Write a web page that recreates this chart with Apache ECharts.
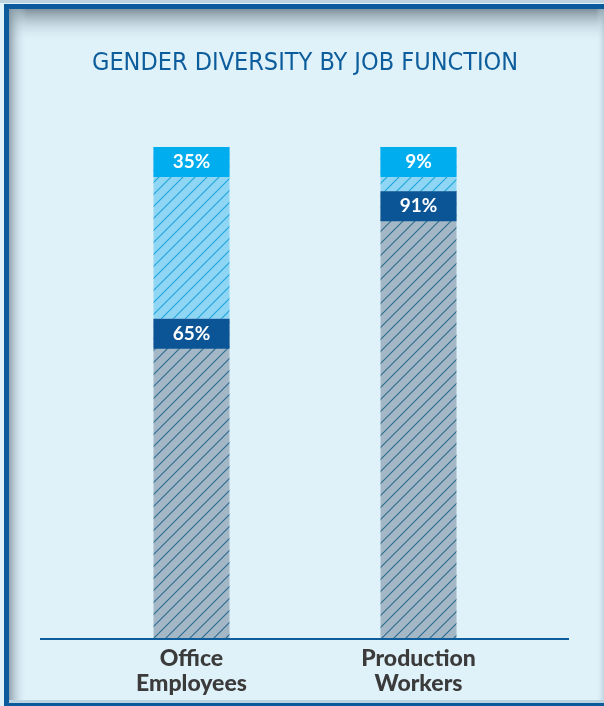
<!DOCTYPE html>
<html>
<head>
<meta charset="utf-8">
<script src="https://cdn.jsdelivr.net/npm/echarts@6/dist/echarts.min.js"></script>
<style>
  html, body { margin: 0; padding: 0; background: #dff2fa; }
  #chart { width: 604px; height: 706px; }
</style>
</head>
<body>
<div id="chart"></div>
<script>
// Job functions and the gender split of each, in percent
const categories = ['Office\nEmployees', 'Production\nWorkers'];
const menShare = [65, 91];
const womenShare = [35, 9];
const titleText = 'GENDER DIVERSITY BY JOB FUNCTION';

// Diagonal hatch tile used as a repeating bar fill
function hatch(bg, line, size) {
  const c = document.createElement('canvas');
  c.width = size; c.height = size;
  const ctx = c.getContext('2d');
  ctx.fillStyle = bg;
  ctx.fillRect(0, 0, size, size);
  ctx.strokeStyle = line;
  ctx.lineWidth = 1.1;
  ctx.beginPath();
  ctx.moveTo(-1, size + 1); ctx.lineTo(size + 1, -1);
  ctx.moveTo(-2, 2); ctx.lineTo(2, -2);
  ctx.moveTo(size - 2, size + 2); ctx.lineTo(size + 2, size - 2);
  ctx.stroke();
  return { image: c, repeat: 'repeat' };
}

const chart = echarts.init(document.getElementById('chart'), null, { renderer: 'canvas' });

function bandLabel(bg) {
  return {
    show: true,
    position: 'insideTop',
    distance: 0,
    formatter: '{c}%',
    backgroundColor: bg,
    width: 76,
    height: 30,
    lineHeight: 30,
    align: 'center',
    color: '#ffffff',
    fontFamily: 'Lato, "DejaVu Sans", sans-serif',
    fontWeight: 'bold',
    fontSize: 19
  };
}

chart.setOption({
  backgroundColor: '#dff2fa',
  animation: false,
  grid: { left: 78, right: 72, top: 147, bottom: 68 },
  xAxis: {
    type: 'category',
    data: categories,
    axisLine: { show: false },
    axisTick: { show: false },
    axisLabel: {
      margin: 8,
      color: '#3b3b3b',
      fontFamily: 'Lato, "DejaVu Sans", sans-serif',
      fontWeight: 900,
      fontSize: 23,
      lineHeight: 25
    }
  },
  yAxis: {
    type: 'value',
    min: 0,
    max: 100,
    show: false,
    splitLine: { show: false }
  },
  series: [
    {
      name: 'Men',
      type: 'bar',
      stack: 'share',
      barWidth: 76,
      data: menShare,
      itemStyle: { color: hatch('#a4b7c7', '#296c8c', 12) },
      label: bandLabel('#0b5596')
    },
    {
      name: 'Women',
      type: 'bar',
      stack: 'share',
      barWidth: 76,
      data: womenShare,
      itemStyle: { color: hatch('#8fd5f4', '#1fa5dc', 12) },
      label: bandLabel('#00aeef')
    }
  ],
  graphic: [
    // frame: dark edges with soft inner shadow
    { type: 'rect', z: 1, silent: true, shape: { x: 0, y: 0, width: 604, height: 3 }, style: { fill: '#bcd3df' } },
    {
      type: 'rect', z: 1, silent: true,
      shape: { x: 9, y: 9, width: 595, height: 34 },
      style: { fill: new echarts.graphic.LinearGradient(0, 0, 0, 1, [
        { offset: 0, color: 'rgba(120,138,150,0.95)' },
        { offset: 0.45, color: 'rgba(160,180,190,0.45)' },
        { offset: 1, color: 'rgba(223,242,250,0)' }
      ]) }
    },
    {
      type: 'rect', z: 1, silent: true,
      shape: { x: 9, y: 9, width: 18, height: 694 },
      style: { fill: new echarts.graphic.LinearGradient(0, 0, 1, 0, [
        { offset: 0, color: 'rgba(130,148,160,0.85)' },
        { offset: 0.5, color: 'rgba(175,195,205,0.4)' },
        { offset: 1, color: 'rgba(223,242,250,0)' }
      ]) }
    },
    {
      type: 'rect', z: 1, silent: true,
      shape: { x: 596, y: 9, width: 8, height: 694 },
      style: { fill: new echarts.graphic.LinearGradient(0, 0, 1, 0, [
        { offset: 0, color: 'rgba(223,242,250,0)' },
        { offset: 1, color: 'rgba(170,190,200,0.6)' }
      ]) }
    },
    { type: 'rect', z: 2, silent: true, shape: { x: 4, y: 4, width: 600, height: 5 }, style: { fill: '#0b5a9b' } },
    { type: 'rect', z: 2, silent: true, shape: { x: 4, y: 4, width: 5, height: 702 }, style: { fill: '#0b5a9b' } },
    { type: 'rect', z: 2, silent: true, shape: { x: 9, y: 700, width: 595, height: 3 }, style: { fill: '#b9d3e0' } },
    { type: 'rect', z: 2, silent: true, shape: { x: 4, y: 703, width: 600, height: 3 }, style: { fill: '#0b5a9b' } },
    // title
    {
      type: 'text', z: 5, silent: true,
      x: 305, y: 63,
      style: {
        text: titleText,
        fill: '#0d5d9c',
        font: '25px "Liberation Sans Narrow", "DejaVu Sans Condensed", sans-serif',
        textAlign: 'center',
        textVerticalAlign: 'middle'
      }
    },
    // baseline under the bars
    {
      type: 'line', z: 10, silent: true,
      shape: { x1: 40, y1: 639, x2: 569, y2: 639 },
      style: { stroke: '#0d5d9c', lineWidth: 2 }
    }
  ]
});
</script>
</body>
</html>
